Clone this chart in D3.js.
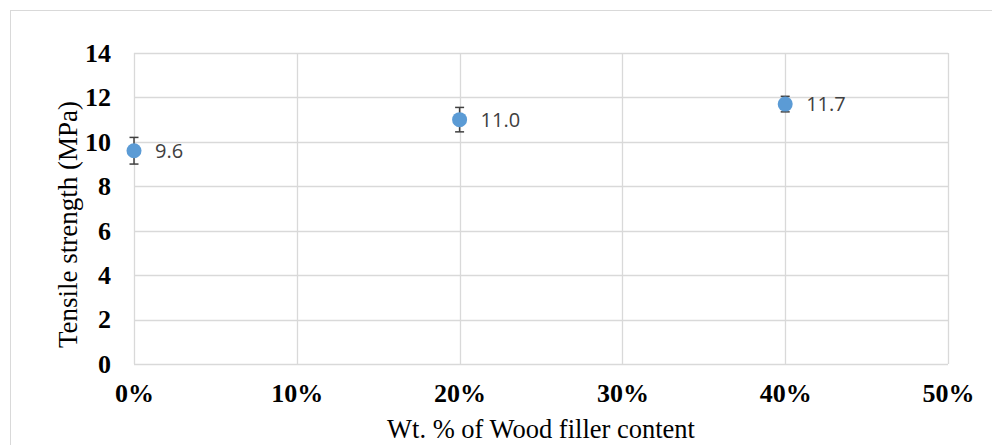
<!DOCTYPE html>
<html>
<head>
<meta charset="utf-8">
<script src="https://cdn.jsdelivr.net/npm/d3@7"></script>
<style>
  html, body { margin: 0; padding: 0; background: #fff; }
  svg { display: block; }
</style>
</head>
<body>
<svg id="chart" width="992" height="445"></svg>
<script>
// Wood filler content (fraction) and measured tensile strength
const fillerContent = [0, 0.2, 0.4];
const tensileMean = [9.6, 11.0, 11.7];
const tensileErr = [0.6, 0.55, 0.35];
const yTicks = [0, 2, 4, 6, 8, 10, 12, 14];
const xTicks = [0, 0.1, 0.2, 0.3, 0.4, 0.5];

const svg = d3.select("#chart");
const W = 992, H = 445;
const plot = { left: 134, top: 53, right: 948, bottom: 364 };
const serif = "'Liberation Serif', 'Times New Roman', serif";

// outer chart frame
svg.append("rect")
  .attr("x", 10.5).attr("y", 10.5)
  .attr("width", W).attr("height", H)
  .attr("fill", "none").attr("stroke", "#d9d9d9").attr("stroke-width", 1);

const x = d3.scaleLinear().domain([0, 0.5]).range([plot.left, plot.right]);
const y = d3.scaleLinear().domain([0, 14]).range([plot.bottom, plot.top]);

// gridlines
const grid = svg.append("g").attr("stroke", "#d9d9d9").attr("stroke-width", 1.3);
grid.selectAll("line.h").data(yTicks).join("line")
  .attr("x1", plot.left).attr("x2", plot.right)
  .attr("y1", d => Math.round(y(d)) + 0.5).attr("y2", d => Math.round(y(d)) + 0.5);
grid.selectAll("line.v").data(xTicks).join("line")
  .attr("y1", plot.top).attr("y2", plot.bottom)
  .attr("x1", d => Math.round(x(d)) + 0.5).attr("x2", d => Math.round(x(d)) + 0.5);

// axes (labels only)
const yAxis = svg.append("g")
  .attr("transform", `translate(${plot.left - 23},0)`)
  .call(d3.axisLeft(y).tickValues(yTicks).tickSize(0).tickPadding(0));
yAxis.select(".domain").remove();
yAxis.selectAll("text")
  .attr("font-family", serif)
  .attr("font-weight", "bold").attr("font-size", 26).attr("fill", "#000");

const xAxis = svg.append("g")
  .attr("transform", `translate(0,${plot.bottom + 20})`)
  .call(d3.axisBottom(x).tickValues(xTicks).tickFormat(d3.format(".0%")).tickSize(0).tickPadding(0));
xAxis.select(".domain").remove();
xAxis.selectAll("text")
  .attr("font-family", serif)
  .attr("font-weight", "bold").attr("font-size", 26).attr("fill", "#000");

// axis titles
svg.append("text")
  .attr("x", (plot.left + plot.right) / 2).attr("y", 438)
  .attr("text-anchor", "middle")
  .attr("font-family", serif)
  .attr("font-size", 26.5).attr("fill", "#000")
  .text("Wt. % of Wood filler content");

svg.append("text")
  .attr("transform", `translate(77,${(plot.top + plot.bottom) / 2 + 16}) rotate(-90)`)
  .attr("text-anchor", "middle")
  .attr("font-family", serif)
  .attr("font-size", 27).attr("fill", "#000")
  .text("Tensile strength (MPa)");

const pts = fillerContent.map((c, i) => ({ c, v: tensileMean[i], e: tensileErr[i] }));

// error bars
const eb = svg.append("g").attr("stroke", "#404040").attr("stroke-width", 1.5);
eb.selectAll("line.stem").data(pts).join("line")
  .attr("x1", d => x(d.c)).attr("x2", d => x(d.c))
  .attr("y1", d => y(d.v + d.e)).attr("y2", d => y(d.v - d.e));
eb.selectAll("line.top").data(pts).join("line")
  .attr("x1", d => x(d.c) - 4.5).attr("x2", d => x(d.c) + 4.5)
  .attr("y1", d => y(d.v + d.e)).attr("y2", d => y(d.v + d.e));
eb.selectAll("line.bot").data(pts).join("line")
  .attr("x1", d => x(d.c) - 4.5).attr("x2", d => x(d.c) + 4.5)
  .attr("y1", d => y(d.v - d.e)).attr("y2", d => y(d.v - d.e));

// markers
svg.append("g").selectAll("circle").data(pts).join("circle")
  .attr("cx", d => x(d.c)).attr("cy", d => y(d.v)).attr("r", 7.5)
  .attr("fill", "#5b9bd5");

// data labels
svg.append("g").selectAll("text").data(pts).join("text")
  .attr("x", d => x(d.c) + 21).attr("y", d => y(d.v)).attr("dy", "0.36em")
  .attr("font-family", "'Open Sans', 'Liberation Sans', sans-serif")
  .attr("font-size", 20).attr("fill", "#404040")
  .text(d => d.v.toFixed(1));
</script>
</body>
</html>
